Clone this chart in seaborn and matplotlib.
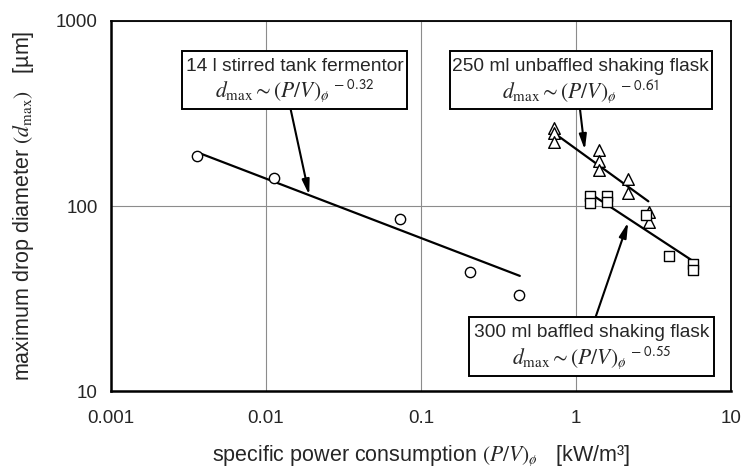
"""
Maximum drop diameter vs. specific power consumption (log-log)
"""
import matplotlib
matplotlib.use("Agg")
import matplotlib.pyplot as plt
from matplotlib.patches import Rectangle
import seaborn as sns

# --- data ---
fermentor_pv = [0.0036, 0.0112, 0.073, 0.207, 0.43]
fermentor_d = [187, 141, 85, 44, 33]
fermentor_fit_pv = [0.00385, 0.434]
fermentor_fit_d = [191, 41.9]

unbaffled_pv = [0.72, 0.72, 0.72, 1.41, 1.41, 1.41, 2.17, 2.17, 2.94, 2.94]
unbaffled_d = [265, 249, 223, 201, 175, 157, 140, 118, 93, 82]
unbaffled_fit_pv = [0.752, 2.93]
unbaffled_fit_d = [242, 106]

baffled_pv = [1.23, 1.23, 1.59, 1.59, 2.83, 4.0, 5.7, 5.7]
baffled_d = [113, 104, 113, 105, 89, 54, 48.6, 45]
baffled_fit_pv = [1.33, 5.77]
baffled_fit_d = [112, 50]

x_ticks = [0.001, 0.01, 0.1, 1, 10]
x_ticklabels = ["0.001", "0.01", "0.1", "1", "10"]
y_ticks = [10, 100, 1000]
y_ticklabels = ["10", "100", "1000"]

# arrow targets (data coords)
fermentor_arrow = (0.019, 114.6)
unbaffled_arrow = (1.14, 201)
baffled_arrow = (2.17, 81.7)

sns.set_style("white")
plt.rcParams["font.family"] = ["Liberation Sans", "DejaVu Sans"]
plt.rcParams["mathtext.fontset"] = "stix"

fig, ax = plt.subplots(figsize=(7.41, 4.74), dpi=100)
fig.subplots_adjust(left=0.1498, right=0.9865, bottom=0.1751, top=0.9557)

# fit lines
for fx, fy in [(fermentor_fit_pv, fermentor_fit_d),
               (unbaffled_fit_pv, unbaffled_fit_d),
               (baffled_fit_pv, baffled_fit_d)]:
    sns.lineplot(x=fx, y=fy, ax=ax, color="black", lw=1.6, sort=False, zorder=2)

# markers
sns.scatterplot(x=fermentor_pv, y=fermentor_d, ax=ax, marker="o", s=55,
                facecolor="white", edgecolor="black", linewidth=1.0, zorder=3)
sns.scatterplot(x=unbaffled_pv, y=unbaffled_d, ax=ax, marker="^", s=70,
                facecolor="white", edgecolor="black", linewidth=1.0, zorder=3)
sns.scatterplot(x=baffled_pv, y=baffled_d, ax=ax, marker="s", s=55,
                facecolor="white", edgecolor="black", linewidth=1.0, zorder=3)

ax.set_xscale("log")
ax.set_yscale("log")
ax.set_xlim(0.001, 10)
ax.set_ylim(10, 1000)
ax.set_xticks(x_ticks)
ax.set_xticklabels(x_ticklabels)
ax.set_yticks(y_ticks)
ax.set_yticklabels(y_ticklabels)
ax.minorticks_off()
ax.tick_params(axis="both", which="major", direction="inout", length=7, width=1.0,
               labelsize=13.5, color="black", pad=6)
ax.tick_params(axis="x", pad=10)

ax.grid(True, which="major", color="#8c8c8c", lw=0.8)
ax.set_axisbelow(True)

for side, lw in [("left", 1.8), ("bottom", 1.8), ("top", 1.3), ("right", 1.3)]:
    ax.spines[side].set_visible(True)
    ax.spines[side].set_color("black")
    ax.spines[side].set_linewidth(lw)

ax.set_xlabel(r"specific power consumption $(P/V)_{ø}$   [kW/m³]",
              fontsize=15.5, labelpad=12)
ax.set_ylabel(r"maximum drop diameter $(d_{\rm max})$   [µm]",
              fontsize=15.5, labelpad=14)


def label_box(title, expo, target, x0, x1, y0, y1, start):
    # arrow from box edge to the fit line
    ax.annotate("", xy=target, xycoords="data", xytext=start,
                textcoords="axes fraction",
                arrowprops=dict(arrowstyle="-|>,head_length=0.9,head_width=0.22",
                                color="black", lw=1.5, shrinkA=0, shrinkB=0),
                zorder=4)
    ax.add_patch(Rectangle((x0, y0), x1 - x0, y1 - y0, transform=ax.transAxes,
                           fc="white", ec="black", lw=1.4, zorder=5))
    xc = (x0 + x1) / 2
    h = y1 - y0
    ax.text(xc, y0 + 0.73 * h, title, transform=ax.transAxes, ha="center",
            va="center", fontsize=13.8, zorder=6)
    formula = (r"$d_{\rm max}\sim (P/V)_{ø}{}^{\ \mathsf{-\ " + expo + r"}}$")
    ax.text(xc, y0 + 0.30 * h, formula, transform=ax.transAxes, ha="center",
            va="center", fontsize=15.5, zorder=6)


label_box("14 l stirred tank fermentor", "0.32", fermentor_arrow,
          0.114, 0.478, 0.761, 0.920, (0.2898, 0.761))
label_box("250 ml unbaffled shaking flask", "0.61", unbaffled_arrow,
          0.546, 0.969, 0.761, 0.920, (0.7565, 0.761))
label_box("300 ml baffled shaking flask", "0.55", baffled_arrow,
          0.578, 0.972, 0.0405, 0.2008, (0.7818, 0.2008))

plt.savefig("out.png", dpi=100)
